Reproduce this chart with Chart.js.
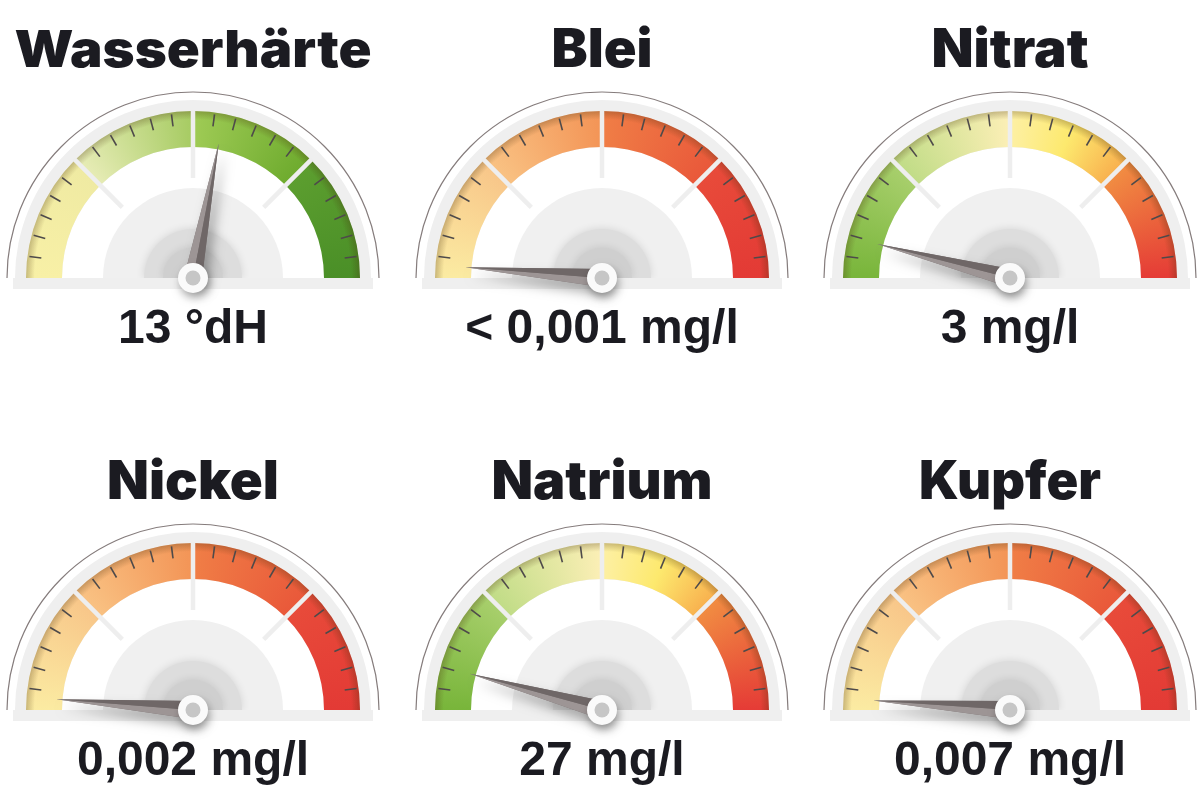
<!DOCTYPE html>
<html>
<head>
<meta charset="utf-8">
<script src="https://cdn.jsdelivr.net/npm/chart.js@4.4.1/dist/chart.umd.min.js"></script>
<style>
  html, body { margin: 0; padding: 0; background: #fff; overflow: hidden; }
  body { width: 1200px; height: 800px; position: relative; }
  .gauge { position: absolute; width: 400px; height: 400px; }
</style>
</head>
<body>
<script>
// Gauge data
const titles = ["Wasserhärte", "Blei", "Nitrat", "Nickel", "Natrium", "Kupfer"];
const valueLabels = ["13 °dH", "< 0,001 mg/l", "3 mg/l", "0,002 mg/l", "27 mg/l", "0,007 mg/l"];
// needle position in percent of the dial (0 = left end, 100 = right end)
const needlePercent = [56, 2.5, 8, 2.5, 8.5, 2.2];
const zoneNames = ["A", "B", "C", "D"];
const zones = [25, 25, 25, 25];
const scaleKind = ["green", "red", "traffic", "red", "traffic", "red"];

// Layout / style
const centers = [[193, 278], [602, 278], [1010, 278], [193, 710], [602, 710], [1010, 710]];
const titleSize = [51, 53, 53, 53, 53, 53];
const titleWidth = [357, 101, 157, 172, 221, 182];
const RADIUS = 167;
const INNER = 131;

const palettes = {
  green: [["#f8f0a6", "#efeaa2"], ["#e7ecb6", "#a6cb62"], ["#9fcb55", "#6eab2e"], ["#5c9e2f", "#4a8f27"]],
  red: [["#fbeba2", "#f8c689"], ["#f9c283", "#f39456"], ["#f07e46", "#e9583a"], ["#e84b3a", "#e33a35"]],
  traffic: [["#78b53a", "#a8cf6c"], ["#c0dc86", "#fcefb6"], ["#fdf0a4", "#fde96e", "#f8b04e"], ["#f18d42", "#e53b36"]],
};

function segmentColor(context, kind) {
  const chart = context.chart;
  const area = chart.chartArea;
  if (!area) return "#ccc";
  const total = zones.reduce((a, b) => a + b, 0);
  let before = 0;
  for (let k = 0; k < context.dataIndex; k++) before += zones[k];
  const from = (before / total) * 0.5;
  const span = (zones[context.dataIndex] / total) * 0.5;
  const cx = (area.left + area.right) / 2;
  const cy = (area.top + area.bottom) / 2 + RADIUS / 2;
  const g = chart.ctx.createConicGradient(Math.PI, cx, cy);
  const stops = palettes[kind][context.dataIndex];
  stops.forEach((c, k) => g.addColorStop(from + (span * k) / (stops.length - 1), c));
  return g;
}

function halfDisc(ctx, cx, cy, r, color) {
  ctx.beginPath();
  ctx.moveTo(cx - r, cy);
  ctx.arc(cx, cy, r, Math.PI, 2 * Math.PI);
  ctx.closePath();
  ctx.fillStyle = color;
  ctx.fill();
}

const gaugeDecor = {
  id: "gaugeDecor",
  beforeDatasetsDraw(chart) {
    const ctx = chart.ctx;
    const arc = chart.getDatasetMeta(0).data[0];
    const cx = arc.x, cy = arc.y;
    ctx.save();
    // thin outer line
    ctx.beginPath();
    ctx.arc(cx, cy, RADIUS + 19, Math.PI, 2 * Math.PI);
    ctx.strokeStyle = "#857c7c";
    ctx.lineWidth = 1.2;
    ctx.stroke();
    halfDisc(ctx, cx, cy, RADIUS + 11, "#efefef");
    halfDisc(ctx, cx, cy, INNER, "#ffffff");
    halfDisc(ctx, cx, cy, 90, "#f0f0f0");
    ctx.shadowColor = "rgba(0,0,0,0.12)";
    ctx.shadowBlur = 8;
    halfDisc(ctx, cx, cy, 49, "#dddddd");
    halfDisc(ctx, cx, cy, 30, "#cfcfcf");
    ctx.restore();
  },
  afterDatasetsDraw(chart, args, opts) {
    const ctx = chart.ctx;
    const bandArcs = chart.getDatasetMeta(0).data;
    const arc = bandArcs[0];
    const cx = arc.x, cy = arc.y;
    ctx.save();

    // darker rim on the outer edge of the band
    const rim = ctx.createRadialGradient(cx, cy, INNER, cx, cy, RADIUS);
    rim.addColorStop(0, "rgba(70,45,10,0)");
    rim.addColorStop(0.76, "rgba(70,45,10,0)");
    rim.addColorStop(1, "rgba(70,45,10,0.28)");
    ctx.beginPath();
    ctx.arc(cx, cy, RADIUS, Math.PI, 2 * Math.PI);
    ctx.arc(cx, cy, INNER, 2 * Math.PI, Math.PI, true);
    ctx.closePath();
    ctx.fillStyle = rim;
    ctx.fill();

    // zone separators
    ctx.strokeStyle = "#eeeeee";
    ctx.lineWidth = 4.5;
    for (let k = 0; k < bandArcs.length - 1; k++) {
      const a = bandArcs[k].endAngle;
      ctx.beginPath();
      ctx.moveTo(cx + Math.cos(a) * 100, cy + Math.sin(a) * 100);
      ctx.lineTo(cx + Math.cos(a) * (RADIUS + 1), cy + Math.sin(a) * (RADIUS + 1));
      ctx.stroke();
    }

    // minor ticks every 7.5 degrees
    ctx.strokeStyle = "#4e4a4a";
    ctx.lineWidth = 1.6;
    for (let k = 1; k < 24; k++) {
      if (k % 6 === 0) continue;
      const a = Math.PI + (k * Math.PI) / 24;
      ctx.beginPath();
      ctx.moveTo(cx + Math.cos(a) * 153, cy + Math.sin(a) * 153);
      ctx.lineTo(cx + Math.cos(a) * 165, cy + Math.sin(a) * 165);
      ctx.stroke();
    }

    // base strip
    ctx.fillStyle = "#efefef";
    ctx.fillRect(cx - RADIUS - 13, cy, 2 * (RADIUS + 13), 11);

    // needle
    const needleArc = chart.getDatasetMeta(1).data[0];
    const a = needleArc.endAngle;
    const dx = Math.cos(a), dy = Math.sin(a);
    const nx = dy, ny = -dx;
    const L = 137, w = 9;
    const tip = [cx + dx * L, cy + dy * L];
    const tail = [cx - dx * 5, cy - dy * 5];
    ctx.save();
    ctx.shadowColor = "rgba(0,0,0,0.33)";
    ctx.shadowBlur = 12;
    ctx.shadowOffsetX = 5;
    ctx.shadowOffsetY = 8;
    ctx.beginPath();
    ctx.moveTo(tip[0], tip[1]);
    ctx.lineTo(cx + nx * w, cy + ny * w);
    ctx.lineTo(tail[0], tail[1]);
    ctx.lineTo(cx - nx * w, cy - ny * w);
    ctx.closePath();
    ctx.fillStyle = "#7a7272";
    ctx.fill();
    ctx.restore();
    ctx.beginPath();
    ctx.moveTo(tip[0], tip[1]);
    ctx.lineTo(cx + nx * w, cy + ny * w);
    ctx.lineTo(tail[0], tail[1]);
    ctx.closePath();
    ctx.fillStyle = "#9d9595";
    ctx.fill();
    ctx.beginPath();
    ctx.moveTo(tip[0], tip[1]);
    ctx.lineTo(cx - nx * w, cy - ny * w);
    ctx.lineTo(tail[0], tail[1]);
    ctx.closePath();
    ctx.fillStyle = "#6f6767";
    ctx.fill();

    // hub
    ctx.save();
    ctx.shadowColor = "rgba(0,0,0,0.32)";
    ctx.shadowBlur = 9;
    ctx.shadowOffsetX = 2;
    ctx.shadowOffsetY = 5;
    ctx.beginPath();
    ctx.arc(cx, cy, 15, 0, 2 * Math.PI);
    ctx.fillStyle = "#fafafa";
    ctx.fill();
    ctx.restore();
    ctx.beginPath();
    ctx.arc(cx, cy, 7.5, 0, 2 * Math.PI);
    ctx.fillStyle = "#c6c6c6";
    ctx.fill();

    // title
    ctx.fillStyle = "#1b1b21";
    ctx.textAlign = "center";
    ctx.textBaseline = "alphabetic";
    ctx.font = "900 " + opts.titleSize + "px Inter, 'Liberation Sans', sans-serif";
    const tw = ctx.measureText(opts.title).width;
    ctx.save();
    ctx.translate(cx, cy - 211);
    ctx.scale(opts.titleWidth / tw, 1);
    ctx.fillText(opts.title, 0, 0);
    ctx.restore();

    // value label
    ctx.font = "bold 48px 'Liberation Sans', Arial, sans-serif";
    ctx.fillText(opts.label, cx, cy + 65);
    ctx.restore();
  },
};

titles.forEach((title, i) => {
  const div = document.createElement("div");
  div.className = "gauge";
  div.style.left = centers[i][0] - 200 + "px";
  div.style.top = centers[i][1] - 283 + "px";
  const canvas = document.createElement("canvas");
  div.appendChild(canvas);
  document.body.appendChild(div);

  const kind = scaleKind[i];
  new Chart(canvas, {
    type: "doughnut",
    data: {
      labels: zoneNames,
      datasets: [
        {
          data: zones,
          backgroundColor: (c) => segmentColor(c, kind),
          borderWidth: 0,
          weight: 1,
        },
        {
          data: [needlePercent[i], 100 - needlePercent[i]],
          backgroundColor: "rgba(0,0,0,0)",
          borderWidth: 0,
          weight: 0,
        },
      ],
    },
    options: {
      responsive: true,
      maintainAspectRatio: false,
      animation: false,
      events: [],
      rotation: -90,
      circumference: 180,
      radius: RADIUS,
      cutout: (INNER / RADIUS) * 100 + "%",
      layout: { padding: { bottom: 1 } },
      plugins: {
        legend: { display: false },
        tooltip: { enabled: false },
        gaugeDecor: {
          title: title,
          label: valueLabels[i],
          titleSize: titleSize[i],
          titleWidth: titleWidth[i],
        },
      },
    },
    plugins: [gaugeDecor],
  });
});
</script>
</body>
</html>
